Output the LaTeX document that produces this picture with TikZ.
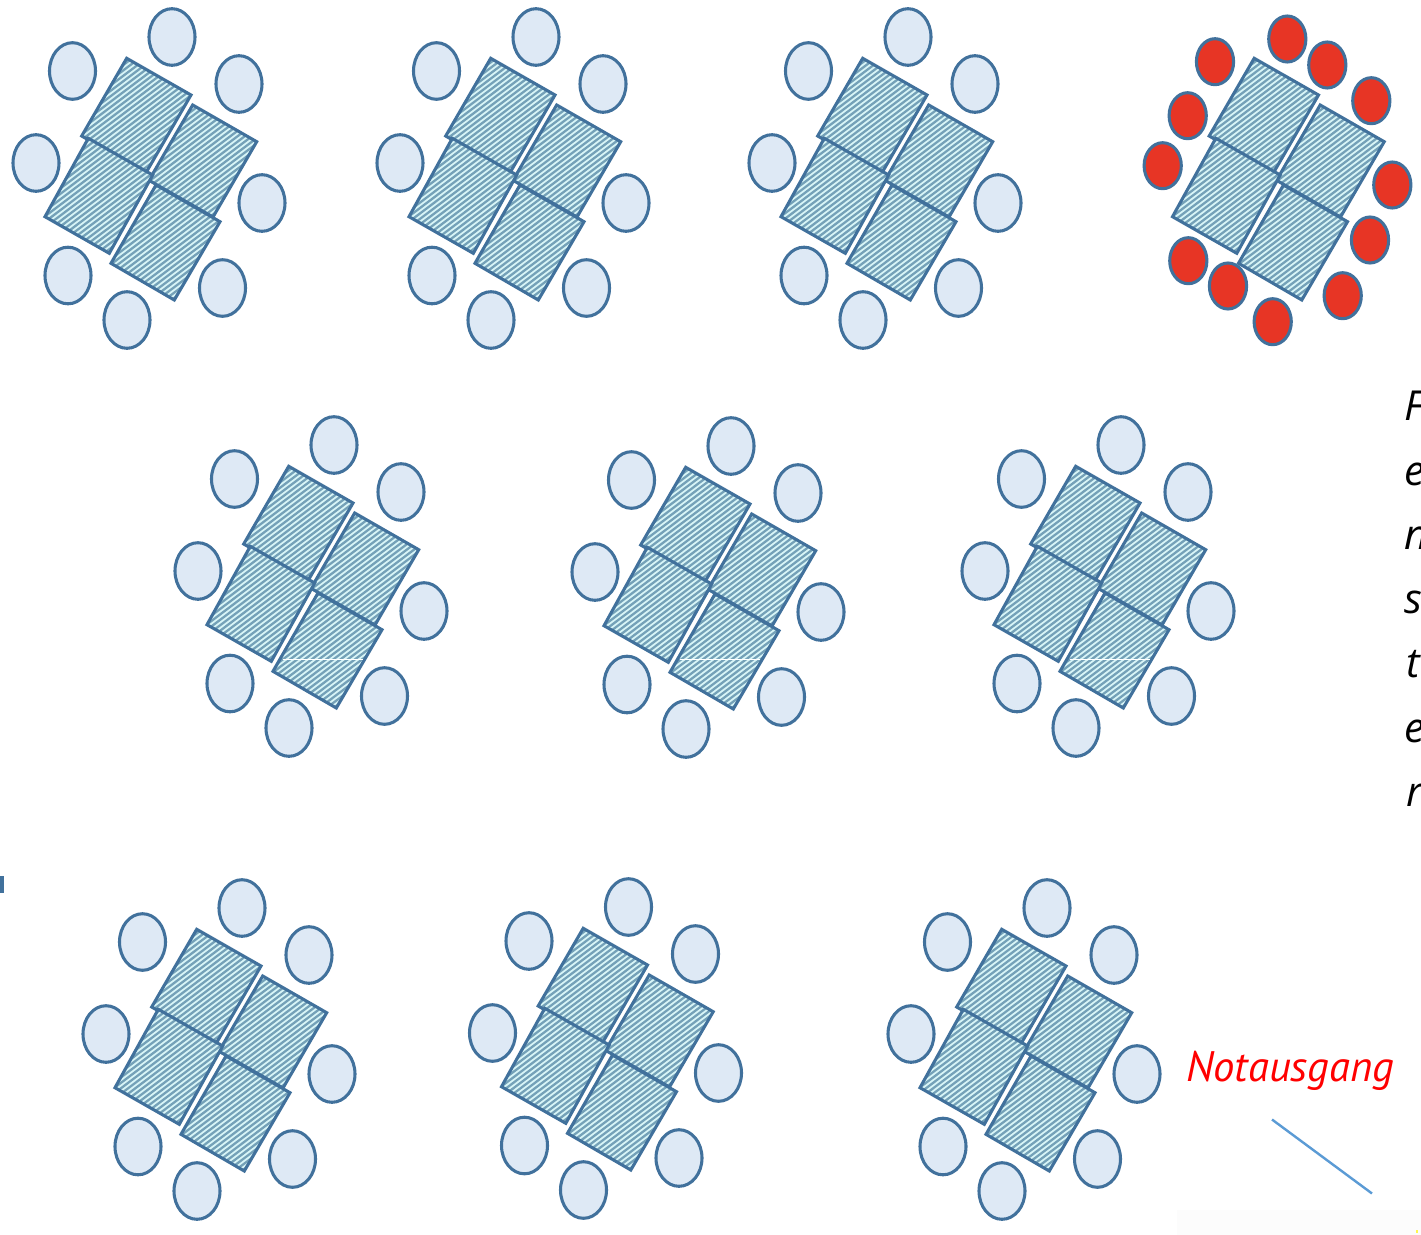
\documentclass[tikz,border=0pt]{standalone}
\usepackage{fontspec}
\setmainfont{PT Sans}
\newfontfamily\fenster{Open Sans}
\definecolor{edgeblue}{HTML}{41719C}
\definecolor{seatfill}{HTML}{DEE9F5}
\definecolor{seatred}{HTML}{E73525}
\definecolor{stripelight}{HTML}{D8F5F7}
\definecolor{stripedark}{HTML}{74A1B8}
\definecolor{linkblue}{HTML}{5B9BD5}
\tikzset{
  seat/.style={draw=edgeblue,line width=2.3pt,fill=seatfill},
  redseat/.style={draw=edgeblue,line width=2.3pt,fill=seatred},
  tableedge/.style={draw=edgeblue,line width=2.3pt,line join=miter},
  stripe/.style={draw=stripedark,line width=1.7pt},
}
% one striped table: four corners
\newcommand{\tabletop}[4]{%
  \begin{scope}
    \clip #1 -- #2 -- #3 -- #4 -- cycle;
    \fill[stripelight] #1 -- #2 -- #3 -- #4 -- cycle;
    \foreach \k in {-60,...,40}{
      \draw[stripe] ({\k*7.2},310) -- ({\k*7.2+411},0);
    }
  \end{scope}
  \draw[tableedge] #1 -- #2 -- #3 -- #4 -- cycle;
}
\newcommand{\tablegroup}{%
  \tabletop{(126.7,58.3)}{(191,95)}{(146,172.7)}{(81.7,136)}
  \tabletop{(192.7,105)}{(256.7,141.7)}{(213,217)}{(149,180.3)}
  \tabletop{(88.3,138.3)}{(152.7,175)}{(109.3,253.3)}{(45,216.7)}
  \tabletop{(156,185)}{(220,221.7)}{(174.3,300)}{(111,263.3)}
}
\newcommand{\fullcluster}[2]{%
  \begin{scope}[shift={(#1,#2)}]
    \tablegroup
    \foreach \cx/\cy in {172/37,72.5/71,239/84,36/163,262/203,68/275.5,222.5/288,127/320}{
      \draw[seat] (\cx,\cy) ellipse [x radius=23,y radius=28.3];
    }
  \end{scope}
}
\begin{document}
\begin{tikzpicture}[x=0.75pt,y=-0.75pt]
\useasboundingbox (0,0) rectangle (1421,1235);
\clip (0,0) rectangle (1421,1235);
\fill[white] (0,0) rectangle (1421,1235);
\fill[black!1] (1177,1210) rectangle (1421,1235);
\fill[yellow!70] (1415.5,1229.5) rectangle (1418,1232.5);
\fullcluster{0}{0}
\fullcluster{364}{0}
\fullcluster{736}{0}
\begin{scope}[shift={(1127.5,0)}]
  \tablegroup
\end{scope}
\foreach \cx/\cy in {1287.3/39,1215/61.7,1327.3/65,1371.3/100.7,1187.7/115.7,1162.7/165.7,1392.3/185,1370/240,1188.3/260.7,1228/286,1342.7/295.7,1272.7/321.7}{
  \draw[redseat] (\cx,\cy) ellipse [x radius=18.6,y radius=23];
}
\fullcluster{162}{408}
\fullcluster{559}{409}
\fullcluster{949}{408}
\foreach \wx in {0,397,787}{
  \draw[white,line width=0.8pt] ({283+\wx},659.5) -- ({363+\wx},659.5);
}
\fullcluster{70}{871}
\fullcluster{456.5}{870}
\fullcluster{875}{871}
\fill[edgeblue] (0,876) rectangle (4,893);
\draw[linkblue,line width=1.8pt] (1272,1119.5) -- (1372,1193.5);
\node[anchor=base west,inner sep=0pt,text=red,font=\itshape\fontsize{32}{38}\selectfont] (exit) at (1186,1081) {Notausgang};
\node[anchor=north west,inner sep=0pt,align=left,font=\fenster\itshape\fontsize{31}{48.2}\selectfont] (window) at (1404,391) {F\\e\\n\\s\\\hspace*{1.5pt}t\\e\\\hspace*{1.5pt}r};
\end{tikzpicture}
\end{document}
